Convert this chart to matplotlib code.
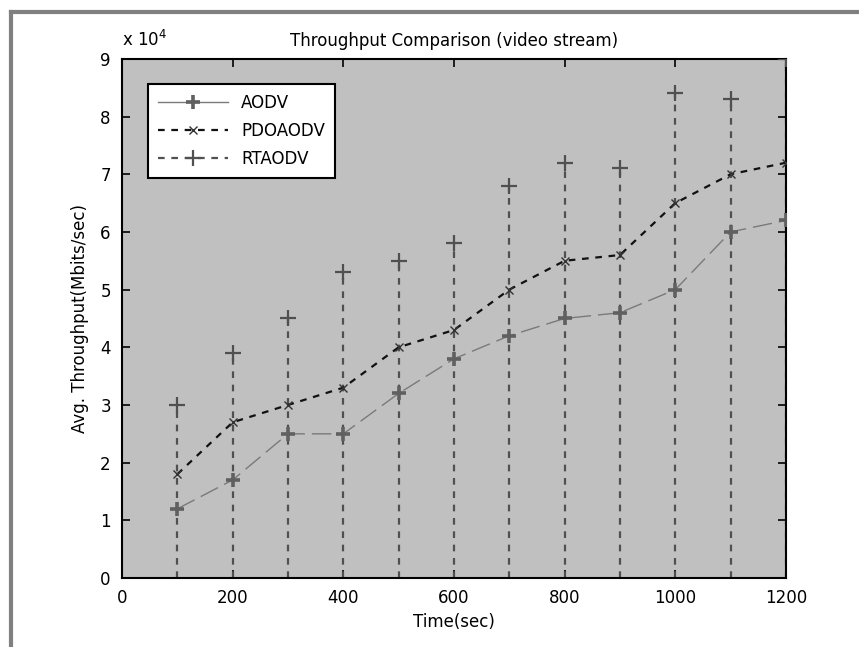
import matplotlib
matplotlib.use("Agg")
import matplotlib.pyplot as plt
from matplotlib.lines import Line2D

plt.rcParams['font.family'] = ['DejaVu Sans']

time = [100, 200, 300, 400, 500, 600, 700, 800, 900, 1000, 1100, 1200]
aodv = [1.2, 1.7, 2.5, 2.5, 3.2, 3.8, 4.2, 4.5, 4.6, 5.0, 6.0, 6.2]
pdoaodv = [1.8, 2.7, 3.0, 3.3, 4.0, 4.3, 5.0, 5.5, 5.6, 6.5, 7.0, 7.2]
rtaodv = [3.0, 3.9, 4.5, 5.3, 5.5, 5.8, 6.8, 7.2, 7.1, 8.4, 8.3, 9.0]
xticks = [0, 200, 400, 600, 800, 1000, 1200]
yticks = [0, 1, 2, 3, 4, 5, 6, 7, 8, 9]

fig = plt.figure(figsize=(8.59, 6.47), dpi=100)
fig.patch.set_facecolor('white')
# frame lines of the original picture
fig.add_artist(Line2D([0.013, 0.013], [0, 0.982], transform=fig.transFigure, color='#808080', lw=3))
fig.add_artist(Line2D([0.013, 1.0], [0.982, 0.982], transform=fig.transFigure, color='#808080', lw=3))

ax = fig.add_axes([0.142, 0.1066, 0.773, 0.8024])
ax.set_facecolor('#c0c0c0')

# RTAODV stems
ax.vlines(time, 0, rtaodv, colors='#505050', linestyles=(0, (3, 3)), lw=1.6, zorder=2)
ax.plot(time, rtaodv, linestyle='none', marker='+', color='#505050', ms=12, mew=1.6, zorder=3)
# AODV
ax.plot(time, aodv, color='#7a7a7a', lw=1.0, linestyle=(0, (14, 5)), marker='+', ms=10,
        mew=2.6, mec='#606060', zorder=4)
# PDOAODV
ax.plot(time, pdoaodv, color='#111111', lw=1.6, linestyle=(0, (3, 3)), marker='x', ms=6,
        mew=1.0, mec='#333333', zorder=5)

ax.set_xlim(0, 1200)
ax.set_ylim(0, 9)
ax.set_xticks(xticks)
ax.set_yticks(yticks)
ax.tick_params(direction='in', top=True, right=True, length=6, width=1.2, labelsize=12, pad=8)
for s in ax.spines.values():
    s.set_linewidth(1.5)
    s.set_color('black')

ax.set_title('Throughput Comparison (video stream)', fontsize=12, pad=9)
ax.set_xlabel('Time(sec)', fontsize=12, labelpad=4)
ax.set_ylabel('Avg. Throughput(Mbits/sec)', fontsize=12, labelpad=8)
fig.text(0.142, 0.922, r'x 10$^{4}$', fontsize=12, ha='left', va='bottom')

h_aodv = Line2D([], [], color='#7a7a7a', lw=1.0, linestyle='-', marker='+', ms=10, mew=2.6, mec='#606060')
h_pdo = Line2D([], [], color='#111111', lw=1.6, linestyle=(0, (3, 3)), marker='x', ms=6, mec='#333333')
h_rt = Line2D([], [], color='#505050', lw=1.6, linestyle=(0, (3, 3)), marker='+', ms=12, mew=1.6)
leg = ax.legend([h_aodv, h_pdo, h_rt], ['AODV', 'PDOAODV', 'RTAODV'], loc='upper left',
                bbox_to_anchor=(0.039, 0.952), borderaxespad=0, fontsize=12, fancybox=False,
                framealpha=1, edgecolor='black', handlelength=4.2, borderpad=0.6, labelspacing=0.6)
leg.get_frame().set_linewidth(1.5)

fig.savefig('out.png', dpi=100)
